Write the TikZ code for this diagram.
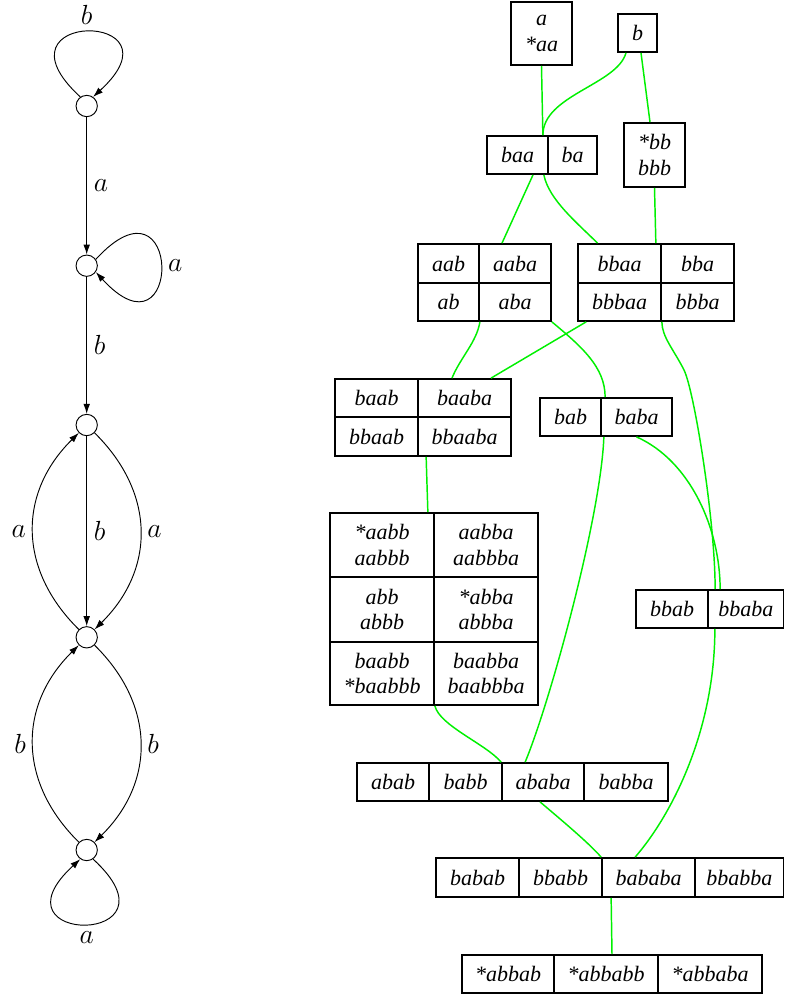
\documentclass[tikz,border=0pt]{standalone}
\usepackage{fontspec}
\newfontfamily\cellfont{Liberation Serif}
\usetikzlibrary{arrows.meta,calc}
\definecolor{linkgreen}{RGB}{0,240,0}
\begin{document}
\begin{tikzpicture}[x=0.75pt,y=-0.75pt,
  state/.style={circle,draw,line width=0.7pt,minimum size=16pt,inner sep=0pt},
  trans/.style={line width=0.7pt,-{Latex[length=7.5pt,width=5pt]}},
  lab/.style={inner sep=5pt,font=\fontsize{21}{25}\selectfont},
  cell/.style 2 args={draw,line width=1.3pt,minimum width=#1*0.75pt,minimum height=#2*0.75pt,
    inner sep=0pt,align=center,font=\cellfont\itshape\fontsize{16.5}{19}\selectfont},
  link/.style={draw=linkgreen,line width=1.1pt}]
\useasboundingbox (0,0) rectangle (785,996);

% ---------------- automaton ----------------
\node[state] (s1) at (86.7,106) {};
\node[state] (s2) at (86.7,265.7) {};
\node[state] (s3) at (86.7,425) {};
\node[state] (s4) at (86.7,637.3) {};
\node[state] (s5) at (86.7,850) {};

\draw[trans] (s1.125) .. controls +(-95,-87) and +(95,-87) .. node[lab,above,pos=0.5] {$b$} (s1.55);
\draw[trans] (s1) -- node[lab,right] {$a$} (s2);
\draw[trans] (s2.35) .. controls +(87,-95) and +(87,95) .. node[lab,right,pos=0.5] {$a$} (s2.-35);
\draw[trans] (s2) -- node[lab,right] {$b$} (s3);
\draw[trans] (s3) -- node[lab,right] {$b$} (s4);
\draw[trans] (s4.135) .. controls +(-61,-60) and +(-61,60) .. node[lab,left,pos=0.5] {$a$} (s3.225);
\draw[trans] (s3.-45) .. controls +(61,60) and +(61,-60) .. node[lab,right,pos=0.5] {$a$} (s4.45);
\draw[trans] (s5.135) .. controls +(-61,-60) and +(-61,60) .. node[lab,left,pos=0.5] {$b$} (s4.225);
\draw[trans] (s4.-45) .. controls +(61,60) and +(61,-60) .. node[lab,right,pos=0.5] {$b$} (s5.45);
\draw[trans] (s5.-55) .. controls +(95,87) and +(-95,87) .. node[lab,below,pos=0.5] {$a$} (s5.-125);

% ---------------- class boxes ----------------
\node[cell={61}{63}] (a1) at (541.5,33.5) {a\\*aa};
\node[cell={39}{38}] (b1) at (637.5,33) {b};

\node[cell={61}{38}] (baa) at (517.5,155) {baa};
\node[cell={49}{38}] (ba) at (572.5,155) {ba};
\node[cell={61}{64}] (bb) at (654.5,155) {*bb\\bbb};

\node[cell={61}{39}] (aab) at (448.5,263.5) {aab};
\node[cell={72}{39}] (aaba) at (515,263.5) {aaba};
\node[cell={61}{38}] (ab) at (448.5,302) {ab};
\node[cell={72}{38}] (aba) at (515,302) {aba};

\node[cell={83}{39}] (bbaa) at (619.5,263.5) {bbaa};
\node[cell={73}{39}] (bba) at (697.5,263.5) {bba};
\node[cell={83}{38}] (bbbaa) at (619.5,302) {bbbaa};
\node[cell={73}{38}] (bbba) at (697.5,302) {bbba};

\node[cell={83}{38}] (baab) at (376.5,398) {baab};
\node[cell={93}{38}] (baaba) at (464.5,398) {baaba};
\node[cell={83}{39}] (bbaab) at (376.5,436.5) {bbaab};
\node[cell={93}{39}] (bbaaba) at (464.5,436.5) {bbaaba};

\node[cell={61}{38}] (bab) at (570.5,417) {bab};
\node[cell={71}{38}] (baba) at (636.5,417) {baba};

\node[cell={104}{64}] (i00) at (382,545) {*aabb\\aabbb};
\node[cell={104}{64}] (i10) at (486,545) {aabba\\aabbba};
\node[cell={104}{65}] (i01) at (382,609.5) {abb\\abbb};
\node[cell={104}{65}] (i11) at (486,609.5) {*abba\\abbba};
\node[cell={104}{63}] (i02) at (382,673.5) {baabb\\*baabbb};
\node[cell={104}{63}] (i12) at (486,673.5) {baabba\\baabbba};

\node[cell={72}{38}] (bbab) at (672,609) {bbab};
\node[cell={75.5}{38}] (bbaba) at (745.75,609) {bbaba};

\node[cell={72}{38}] (abab) at (393,782) {abab};
\node[cell={73}{38}] (babb) at (465.5,782) {babb};
\node[cell={82}{38}] (ababa) at (543,782) {ababa};
\node[cell={84}{38}] (babba) at (626,782) {babba};

\node[cell={83}{39}] (babab) at (477.5,877.5) {babab};
\node[cell={83}{39}] (bbabb) at (560.5,877.5) {bbabb};
\node[cell={93}{39}] (bababa) at (648.5,877.5) {bababa};
\node[cell={88.5}{39}] (bbabba) at (739.25,877.5) {bbabba};

\node[cell={92}{38}] (m1) at (508,974) {*abbab};
\node[cell={104}{38}] (m2) at (606,974) {*abbabb};
\node[cell={104}{38}] (m3) at (710,974) {*abbaba};

% ---------------- links ----------------
\draw[link] (a1.south) -- ($(baa.north east)+(-6,0)$);
\draw[link] ($(b1.south)+(-11.5,0)$) .. controls +(-9,32) and +(0,-40) .. ($(baa.north east)+(-6,0)$);
\draw[link] ($(b1.south)+(3.5,0)$) -- ($(bb.north)+(-4.5,0)$);
\draw[link] ($(baa.south)+(15.5,0)$) -- ($(aaba.north)+(-13,0)$);
\draw[link] ($(baa.south east)+(-5,0)$) .. controls +(5,25) and +(-20,-20) .. ($(bbaa.north)+(-22,0)$);
\draw[link] (bb.south) -- ($(bbaa.north east)+(-6,0)$);
\draw[link] (ab.south east) .. controls +(-3,20) and +(8,-20) .. ($(baaba.north)+(-12.5,0)$);
\draw[link] (aba.south east) .. controls +(30,25) and +(0,-30) .. ($(baba.north west)+(5,0)$);
\draw[link] ($(bbbaa.south west)+(9,0)$) -- ($(baaba.north)+(26.5,0)$);
\draw[link] (bbbaa.south east) .. controls +(0,15) and +(-10,-20) .. (684,370)
  .. controls +(10,20) and +(0,-70) .. ($(bbaba.north west)+(8,0)$);
\draw[link] ($(bab.south east)+(2,0)$) .. controls +(-3,80) and +(25,-60) .. ($(ababa.north west)+(24,0)$);
\draw[link] (baba.south) .. controls +(54,24) and +(0,-60) .. ($(bbaba.north west)+(13,0)$);
\draw[link] ($(bbaaba.south west)+(9,0)$) -- ($(i00.north east)+(-7,0)$);
\draw[link] (i02.south east) .. controls +(5,20) and +(-15,-18) .. (ababa.north west);
\draw[link] ($(bbab.south east)+(6,0)$) .. controls +(0,100) and +(38,-44) .. ($(bababa.north west)+(34,0)$);
\draw[link] ($(ababa.south)+(-3,0)$) .. controls +(20,17) and +(-12,-14) .. (bababa.north west);
\draw[link] ($(bababa.south west)+(10,0)$) -- ($(m2.north)+(6,0)$);
\end{tikzpicture}
\end{document}
